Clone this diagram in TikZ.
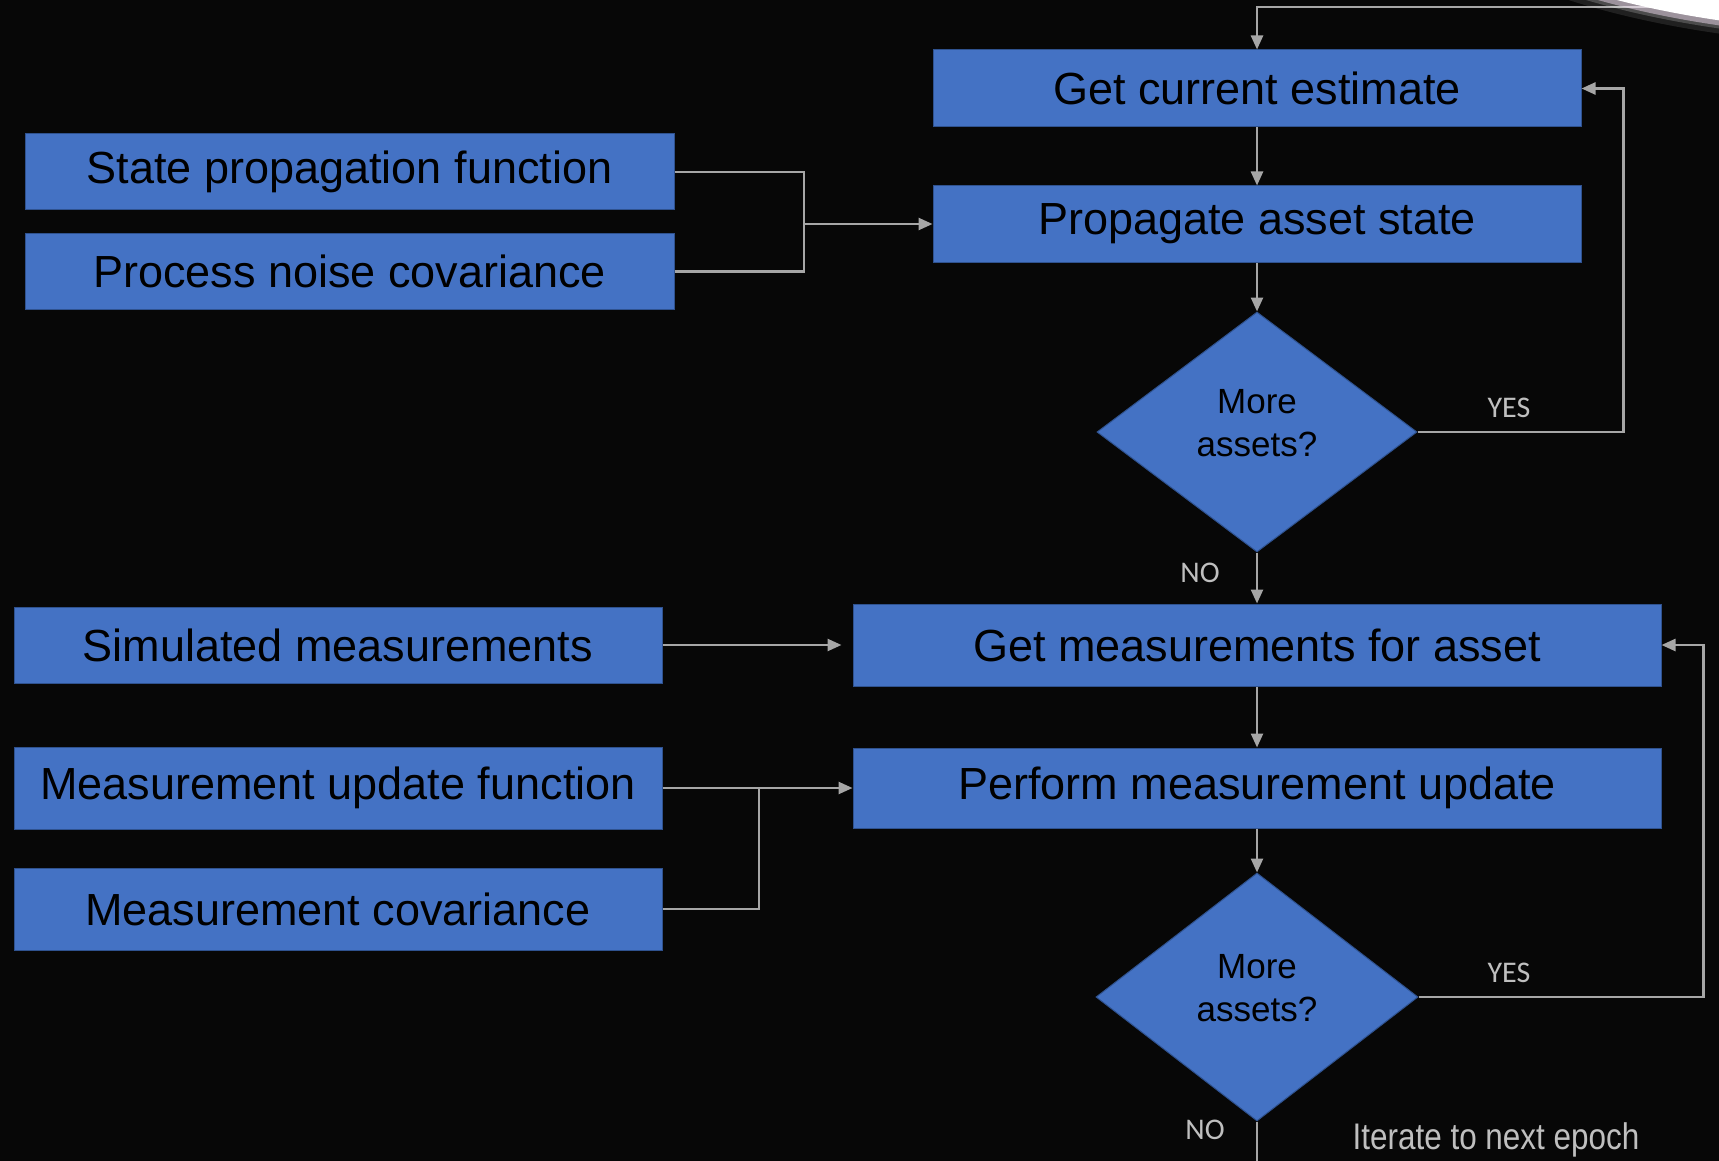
\documentclass[tikz,border=0pt]{standalone}
\usepackage{fontspec}
\setmainfont{Liberation Sans}
\newfontfamily\labelfont{Carlito}
\newfontfamily\notefont[FakeStretch=0.85]{Liberation Sans}
\usetikzlibrary{shapes.geometric,arrows.meta}

\definecolor{boxblue}{HTML}{4472C4}
\definecolor{boxedge}{HTML}{2F528F}
\definecolor{wire}{HTML}{A6A6A6}
\definecolor{bg}{HTML}{070707}
\definecolor{labelgray}{HTML}{BFBFBF}

% question text sits a little above the middle of the diamond
\newcommand{\askmore}{More\\assets?\rule[-18pt]{0pt}{0pt}}

\begin{document}
\begin{tikzpicture}[x=1pt,y=-1pt,
  stepbox/.style={rectangle, fill=boxblue, draw=boxedge, line width=1pt,
    inner sep=0pt, text=black, font=\fontsize{45}{54}\selectfont},
  decision/.style={diamond, fill=boxblue, draw=boxedge, line width=1pt,
    inner sep=0pt, text=black, align=center,
    font=\fontsize{35}{43}\selectfont},
  wireline/.style={draw=wire, line width=2.5pt},
  arr/.style={wireline, -{Triangle[length=14pt,width=12pt]}},
  yesno/.style={text=labelgray, font=\labelfont\fontsize{30}{36}\selectfont, inner sep=0pt},
]
% background
\fill[bg] (0,0) rectangle (1719,1161);
\useasboundingbox (0,0) rectangle (1719,1161);

% blocks of the estimation loop
\node[stepbox, minimum width=648pt, minimum height=77pt] (est)  at (1257,88.5) {Get current estimate};
\node[stepbox, minimum width=648pt, minimum height=76pt] (prop) at (1257,224) {Propagate asset state};
\node[stepbox, minimum width=649pt, minimum height=76pt] (spf)  at (349.5,172) {State propagation function};
\node[stepbox, minimum width=649pt, minimum height=75pt] (pnc)  at (349.5,271.5) {Process noise covariance};
\node[decision, minimum width=320pt, minimum height=240pt] (dec1) at (1257,432) {\askmore};

\node[stepbox, minimum width=808pt, minimum height=82pt] (getm) at (1257,645) {Get measurements for asset};
\node[stepbox, minimum width=808pt, minimum height=80pt] (perf) at (1257,788) {Perform measurement update};
\node[stepbox, minimum width=648pt, minimum height=76pt] (sim)  at (338,645) {Simulated measurements};
\node[stepbox, minimum width=648pt, minimum height=82pt] (muf)  at (338,788) {Measurement update function};
\node[stepbox, minimum width=648pt, minimum height=82pt] (mcov) at (338,909) {Measurement covariance};
\node[decision, minimum width=322pt, minimum height=248pt] (dec2) at (1257,997) {\askmore};

% free ends and junctions
\coordinate (topin) at (1719,7);
\coordinate (j1) at (804,224);
\coordinate (j2) at (759,788);
\coordinate (bottomout) at (1257,1161);

% connectors
\draw[arr] (topin) -| (est.north);
\draw[arr] (est.south) -- (prop.north);
\draw[arr] (prop.south) -- (dec1.north);
\draw[arr] (dec1.east) -- ++(206,0) |- (est.east);
\draw[wireline] (spf.east) -| (j1);
\draw[wireline] (pnc.east) -| (j1);
\draw[arr] (j1) -- (prop.west);
\draw[arr] (dec1.south) -- (getm.north);
\draw[arr, shorten >=11pt] (sim.east) -- (getm.west);
\draw[arr] (muf.east) -- (perf.west);
\draw[wireline] (mcov.east) -| (j2);
\draw[arr] (getm.south) -- (perf.north);
\draw[arr] (perf.south) -- (dec2.north);
\draw[arr] (dec2.east) -- ++(285,0) |- (getm.east);
\draw[wireline] (dec2.south) -- (bottomout);

% branch labels
\node[yesno] (yes1) at (1509,408) {YES};
\node[yesno] (no1)  at (1200,573) {NO};
\node[yesno] (yes2) at (1509,973) {YES};
\node[yesno] (no2)  at (1205,1130) {NO};
\node[text=labelgray, font=\notefont\fontsize{37}{44}\selectfont, inner sep=0pt] (iter) at (1496,1140) {Iterate to next epoch};

% bright limb in the corner
\fill[white, opacity=0.10] (1900,-150) ellipse [x radius=515pt, y radius=196pt];
\fill[white, opacity=0.20] (1900,-150) ellipse [x radius=507pt, y radius=191pt];
\fill[white!85!violet, opacity=0.5] (1900,-150) ellipse [x radius=501pt, y radius=188pt];
\fill[white] (1900,-150) ellipse [x radius=494pt, y radius=183pt];
\end{tikzpicture}
\end{document}
